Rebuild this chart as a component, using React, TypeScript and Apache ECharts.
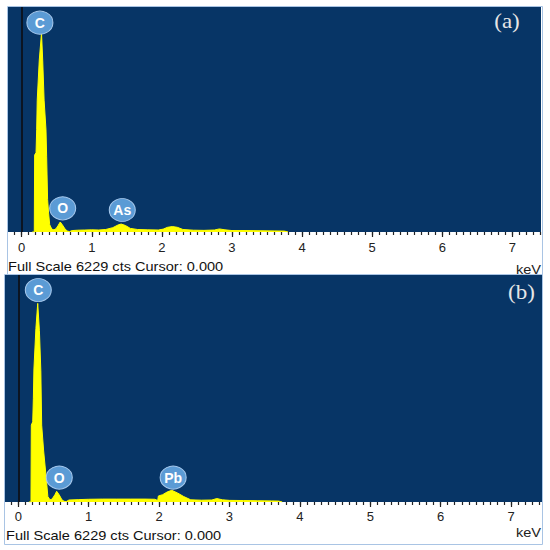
import React, { useEffect, useRef } from "react";
import * as echarts from "echarts";

// Spectrum (a): energy in keV, counts
const energyA = [0.15, 0.18, 0.185, 0.205, 0.214, 0.222, 0.251, 0.283, 0.30, 0.32, 0.347, 0.356, 0.37, 0.385, 0.40, 0.43, 0.46, 0.49, 0.52, 0.55, 0.58, 0.62, 0.65, 0.68, 0.72, 0.80, 0.90, 1.00, 1.10, 1.20, 1.30, 1.38, 1.42, 1.48, 1.55, 1.65, 1.80, 1.95, 2.02, 2.08, 2.15, 2.22, 2.30, 2.45, 2.60, 2.75, 2.82, 2.90, 3.00, 3.20, 3.40, 3.60, 3.75, 3.80];
const countsA = [0, 0, 2130, 2200, 2830, 3650, 4760, 5510, 4760, 3650, 2825, 2100, 900, 500, 200, 80, 60, 90, 180, 277, 200, 80, 30, 10, 40, 50, 55, 60, 55, 70, 120, 200, 220, 180, 100, 70, 60, 55, 80, 130, 150, 130, 70, 50, 45, 55, 85, 60, 40, 40, 35, 30, 25, 0];

// Spectrum (b)
const energyB = [0.15, 0.18, 0.185, 0.205, 0.214, 0.222, 0.25, 0.276, 0.30, 0.32, 0.332, 0.36, 0.393, 0.42, 0.45, 0.48, 0.52, 0.545, 0.58, 0.62, 0.65, 0.68, 0.72, 0.85, 1.00, 1.20, 1.40, 1.60, 1.80, 1.94, 1.98, 1.99, 2.05, 2.12, 2.18, 2.26, 2.35, 2.45, 2.60, 2.75, 2.82, 2.90, 3.00, 3.20, 3.40, 3.60, 3.70, 3.75];
const countsB = [0, 0, 2110, 2200, 2850, 3650, 4760, 5450, 4700, 3600, 2110, 1400, 735, 150, 60, 80, 200, 295, 200, 60, 20, 10, 55, 65, 75, 80, 80, 80, 80, 75, 40, 165, 200, 280, 320, 250, 150, 60, 50, 55, 95, 60, 45, 40, 35, 30, 25, 0];

// Element labels
const peakNamesA = ["C", "O", "As"];
const peakXA = [0.26, 0.585, 1.435];
const peakYA = [5795, 656, 609];
const peakNamesB = ["C", "O", "Pb"];
const peakXB = [0.284, 0.582, 2.2];
const peakYB = [5817, 671, 671];

const tickLabels = [0, 1, 2, 3, 4, 5, 6, 7];
const fullScale = 6229;
const footerText = "Full Scale 6229 cts Cursor: 0.000";
const unitText = "keV";
const panelTitles = ["(a)", "(b)"];

const BG = "#073566";
const YELLOW = "#ffff00";
const BORDER = "#a9c4e4";

const minorTicks: number[] = [];
for (let i = -1; i <= 74; i++) minorTicks.push(i / 10);

function mainX(gridIndex: number, min: number, max: number, margin: number) {
  return {
    type: "value",
    gridIndex,
    min,
    max,
    position: "bottom",
    axisLine: { show: false },
    splitLine: { show: false },
    axisTick: { show: true, customValues: tickLabels, length: 5, lineStyle: { color: "#222", width: 1.2 } },
    axisLabel: {
      show: true,
      customValues: tickLabels,
      margin,
      fontSize: 13,
      color: "#222",
      fontFamily: "Liberation Sans",
    },
  };
}

function minorX(gridIndex: number, min: number, max: number) {
  return {
    type: "value",
    gridIndex,
    min,
    max,
    position: "bottom",
    axisLine: { show: false },
    splitLine: { show: false },
    axisTick: {
      show: true,
      customValues: minorTicks,
      length: 3,
      lineStyle: { color: "#222", width: 1.2 },
    },
    axisLabel: { show: false },
  };
}

function yAx(gridIndex: number) {
  return {
    type: "value",
    gridIndex,
    min: 0,
    max: fullScale,
    axisLine: { show: false },
    axisTick: { show: false },
    axisLabel: { show: false },
    splitLine: { show: false },
  };
}

function spectrum(xi: number, yi: number, ex: number[], cy: number[]) {
  return {
    type: "line",
    xAxisIndex: xi,
    yAxisIndex: yi,
    data: ex.map((e, i) => [e, cy[i]]),
    symbol: "none",
    lineStyle: { width: 1, color: YELLOW },
    areaStyle: { color: YELLOW, opacity: 1 },
    z: 2,
    markLine: {
      silent: true,
      symbol: "none",
      label: { show: false },
      lineStyle: { color: "#0b1422", width: 2, type: "solid" },
      data: [{ xAxis: 0 }],
    },
  };
}

function labels(xi: number, yi: number, names: string[], xs: number[], ys: number[]) {
  return {
    type: "scatter",
    xAxisIndex: xi,
    yAxisIndex: yi,
    data: names.map((n, i) => ({ name: n, value: [xs[i], ys[i]] })),
    symbol: "circle",
    symbolSize: [26, 23],
    itemStyle: { color: "#5b9bd5", borderColor: "#a6c8ec", borderWidth: 1, opacity: 1 },
    label: {
      show: true,
      position: "inside",
      formatter: "{b}",
      color: "#ffffff",
      fontWeight: "bold",
      fontSize: 14,
      fontFamily: "Liberation Sans",
    },
    z: 5,
  };
}

export default function App() {
  const ref = useRef<HTMLDivElement>(null);
  useEffect(() => {
    const chart = echarts.init(ref.current!, null, { renderer: "svg" });
    const textStyle = (t: string, align: string, fontSize: number, fam: string, fill: string) => ({
      text: t,
      align,
      verticalAlign: "middle",
      fontSize,
      fontFamily: fam,
      fill,
    });
    const option: any = {
      animation: false,
      backgroundColor: "#ffffff",
      grid: [
        { left: 8, top: 7, width: 533, height: 225, show: true, backgroundColor: BG, borderWidth: 0 },
        { left: 5, top: 275, width: 537, height: 227, show: true, backgroundColor: BG, borderWidth: 0 },
      ],
      xAxis: [
        mainX(0, -0.195, 7.408, 9),
        minorX(0, -0.195, 7.408),
        mainX(1, -0.189, 7.44, 8),
        minorX(1, -0.189, 7.44),
      ],
      yAxis: [yAx(0), yAx(1)],
      series: [
        spectrum(0, 0, energyA, countsA),
        labels(0, 0, peakNamesA, peakXA, peakYA),
        spectrum(2, 1, energyB, countsB),
        labels(2, 1, peakNamesB, peakXB, peakYB),
      ],
      graphic: [
        { type: "rect", shape: { x: 7.5, y: 6.5, width: 535, height: 268 }, style: { fill: "none", stroke: BORDER, lineWidth: 1 }, z: 10 },
        { type: "rect", shape: { x: 4.5, y: 274.5, width: 538, height: 270 }, style: { fill: "none", stroke: BORDER, lineWidth: 1 }, z: 10 },
        { type: "text", x: 8, y: 267, scaleX: 1.12, style: textStyle(footerText, "left", 13, "Liberation Sans", "#111") },
        { type: "text", x: 541, y: 270, scaleX: 1.12, style: textStyle(unitText, "right", 13, "Liberation Sans", "#222") },
        { type: "text", x: 6, y: 535.5, scaleX: 1.12, style: textStyle(footerText, "left", 13, "Liberation Sans", "#111") },
        { type: "text", x: 541, y: 533, scaleX: 1.12, style: textStyle(unitText, "right", 13, "Liberation Sans", "#222") },
        { type: "text", x: 507, y: 22, scaleX: 1.15, style: textStyle(panelTitles[0], "center", 20, "Liberation Serif", "#e6e6e6") },
        { type: "text", x: 521.5, y: 293, scaleX: 1.15, style: textStyle(panelTitles[1], "center", 20, "Liberation Serif", "#e6e6e6") },
      ],
    };
    chart.setOption(option);
    return () => chart.dispose();
  }, []);
  return (
    <div
      ref={ref}
      style={{ position: "fixed", left: 0, top: 0, width: 550, height: 550, background: "#fff" }}
    />
  );
}
